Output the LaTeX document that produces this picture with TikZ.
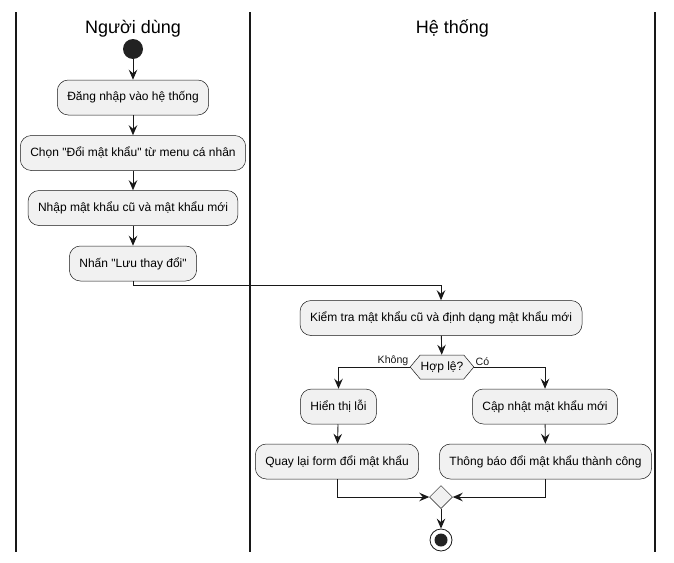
\documentclass[tikz,border=0pt]{standalone}
\usepackage{fontspec}
\newfontfamily\uifont{Liberation Sans}
\usetikzlibrary{arrows.meta,shapes.geometric,shapes.symbols}
\definecolor{boxfill}{HTML}{F1F1F1}
\definecolor{boxline}{HTML}{181818}
\definecolor{dotfill}{HTML}{222222}

\begin{document}
\begin{tikzpicture}[x = 1pt, y = -1pt,
                   every node/.style = {font = \uifont\fontsize{12}{14}\selectfont},
                   action/.style     = {shape          = rectangle,
                                        rounded corners = 11pt,
                                        draw           = boxline,
                                        fill           = boxfill,
                                        line width     = 0.5pt,
                                        minimum height = 35pt,
                                        inner xsep     = 10pt,
                                        align          = center},
                   choice/.style     = {shape          = signal,
                                        signal to      = west and east,
                                        signal pointer angle = 100,
                                        draw           = boxline,
                                        fill           = boxfill,
                                        line width     = 0.5pt,
                                        minimum height = 24pt,
                                        inner xsep     = 0.5pt,
                                        inner ysep     = 0pt},
                   merge/.style      = {shape          = diamond,
                                        draw           = boxline,
                                        fill           = boxfill,
                                        line width     = 0.5pt,
                                        minimum size   = 23pt,
                                        inner sep      = 0pt},
                   startdot/.style   = {shape          = circle,
                                        fill           = dotfill,
                                        minimum size   = 20pt,
                                        inner sep      = 0pt},
                   endring/.style    = {shape          = circle,
                                        draw           = boxline,
                                        fill           = white,
                                        line width     = 0.8pt,
                                        minimum size   = 22pt,
                                        inner sep      = 0pt},
                   lane title/.style = {font = \uifont\fontsize{18}{20}\selectfont,
                                        anchor = base},
                   branch/.style     = {font = \uifont\fontsize{10.6}{12}\selectfont,
                                        inner sep = 1pt},
                   flow/.style       = {-{Stealth[length=10pt, width=8.5pt, inset=3.5pt]},
                                        line width = 0.9pt,
                                        boxline},
                   lane/.style       = {line width = 1.4pt, boxline}]

\useasboundingbox (0,0) rectangle (674,562);

% swimlanes
\foreach \x in {16,250,655}
  { \draw[lane] (\x,12) -- (\x,552); }
\node[lane title] (t;u) at (133,33)   {Người dùng};
\node[lane title] (t;s) at (452.5,33) {Hệ thống};

% the nodes : user lane
\node[startdot] (u;0) at (133,49) {};
  \node[action] (u;1) at (133,97.5)  {Đăng nhập vào hệ thống};
  \node[action] (u;2) at (133,153)   {Chọn "Đổi mật khẩu" từ menu cá nhân};
  \node[action] (u;3) at (133,208)   {Nhập mật khẩu cũ và mật khẩu mới};
  \node[action] (u;4) at (133,263.5) {Nhấn "Lưu thay đổi"};

% the nodes : system lane
\node[action] (s;0) at (441,318) {Kiểm tra mật khẩu cũ và định dạng mật khẩu mới};
\node[choice] (s;1) at (442,367) {Hợp lệ?};
  \node[action] (l;1) at (338.5,406.5) {Hiển thị lỗi};
  \node[action] (l;2) at (337,461.5)   {Quay lại form đổi mật khẩu};
  \node[action] (r;1) at (545,406.5)   {Cập nhật mật khẩu mới};
  \node[action] (r;2) at (545.5,461.5) {Thông báo đổi mật khẩu thành công};
\node[merge]   (s;2) at (441,497) {};
\node[endring] (s;3) at (441,540) {};
\fill[dotfill] (s;3.center) circle (6.5);

% edges
\draw[flow] (u;0) -- (u;1);
\foreach \j [evaluate = \j as \k using int(\j+1)] in {1,...,3}
  { \draw[flow] (u;\j) -- (u;\k); }
\draw[flow] (u;4.south) -- ++(0,4) -| (s;0.north);
\draw[flow] (s;0) -- (s;1);
\draw[flow] (s;1.west) -| node[branch, pos = 0, anchor = south east] {Không} (l;1.north);
\draw[flow] (s;1.east) -| node[branch, pos = 0, anchor = south west] {Có} (r;1.north);
\draw[flow] (l;1) -- (l;2);
\draw[flow] (r;1) -- (r;2);
\draw[flow] (l;2.south) |- (s;2.west);
\draw[flow] (r;2.south) |- (s;2.east);
\draw[flow] (s;2) -- (s;3);
\end{tikzpicture}
\end{document}
